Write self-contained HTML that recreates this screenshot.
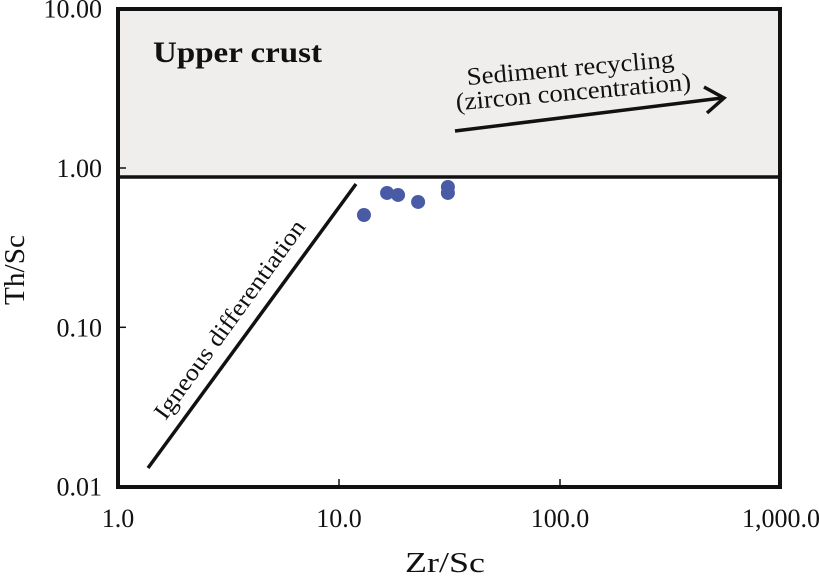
<!DOCTYPE html>
<html><head><meta charset="utf-8"><style>
html,body{margin:0;padding:0;background:#fff;}
svg{display:block;font-family:"Liberation Serif","DejaVu Serif",serif;}
</style></head><body>
<svg id="chart" width="819" height="576" viewBox="0 0 819 576" xmlns="http://www.w3.org/2000/svg">
<rect x="118" y="9" width="662" height="168" fill="#f0eeec"/>
<g id="ticks"></g>
<g id="points"></g>
<line x1="118" y1="177" x2="780" y2="177" stroke="#111" stroke-width="3.5"/>
<rect x="118" y="9" width="662" height="478" fill="none" stroke="#111" stroke-width="4"/>
<text x="153" y="62" font-size="30" font-weight="bold" fill="#111" textLength="169" lengthAdjust="spacingAndGlyphs">Upper crust</text>
<text transform="translate(571,76) rotate(-5)" text-anchor="middle" font-size="25" fill="#111" textLength="208" lengthAdjust="spacingAndGlyphs">Sediment recycling</text>
<text transform="translate(574,100) rotate(-5)" text-anchor="middle" font-size="25" fill="#111" textLength="236" lengthAdjust="spacingAndGlyphs">(zircon concentration)</text>
<line x1="455" y1="131" x2="722" y2="98" stroke="#111" stroke-width="3.5"/>
<polyline points="704,87 724,98 707,113" fill="none" stroke="#111" stroke-width="3.5"/>
<line x1="148" y1="468" x2="356" y2="184" stroke="#111" stroke-width="3.5"/>
<text transform="translate(236,324) rotate(-54)" text-anchor="middle" font-size="24" fill="#111" textLength="240" lengthAdjust="spacingAndGlyphs">Igneous differentiation</text>
<text transform="translate(24,270) rotate(-90)" text-anchor="middle" font-size="28" fill="#111" textLength="70" lengthAdjust="spacingAndGlyphs">Th/Sc</text>
<text x="445" y="572" text-anchor="middle" font-size="28" fill="#111" textLength="80" lengthAdjust="spacingAndGlyphs">Zr/Sc</text>
</svg>
<script>
const xTicks=[1,10,100,1000];
const xTickLabels=["1.0","10.0","100.0","1,000.0"];
const yTicks=[0.01,0.1,1,10];
const yTickLabels=["0.01","0.10","1.00","10.00"];
const zrSc=[12.97,16.5,18.5,22.8,31.1,31.1];
const thSc=[0.507,0.697,0.677,0.612,0.760,0.697];
const X=v=>118+221*Math.log10(v);
const Y=v=>168-159.3*Math.log10(v);
const NS="http://www.w3.org/2000/svg";
const tg=document.getElementById('ticks'),pg=document.getElementById('points');
function mk(tag,at,parent){const e=document.createElementNS(NS,tag);for(const k in at)e.setAttribute(k,at[k]);parent.appendChild(e);return e;}
xTicks.forEach((v,i)=>{
  const l=mk('line',{x1:X(v),x2:X(v),y1:487,y2:479,stroke:'#111','stroke-width':1.5},tg);
  
  
  const t=mk('text',{x:X(v),y:527,'text-anchor':'middle','font-size':26,fill:'#111'},tg);
  t.textContent=xTickLabels[i];
  
  
});
yTicks.forEach((v,i)=>{
  const l=mk('line',{x1:118,x2:126,y1:Y(v),y2:Y(v),stroke:'#111','stroke-width':1.5},tg);
  
  
  const t=mk('text',{x:102,y:Y(v)+9,'text-anchor':'end','font-size':26,fill:'#111'},tg);
  t.textContent=yTickLabels[i];
  
  
});
zrSc.forEach((v,i)=>{
  const c=mk('circle',{cx:X(v),cy:Y(thSc[i]),r:7,fill:'#4a5ba6'},pg);
  
  
});
</script>
</body></html>
